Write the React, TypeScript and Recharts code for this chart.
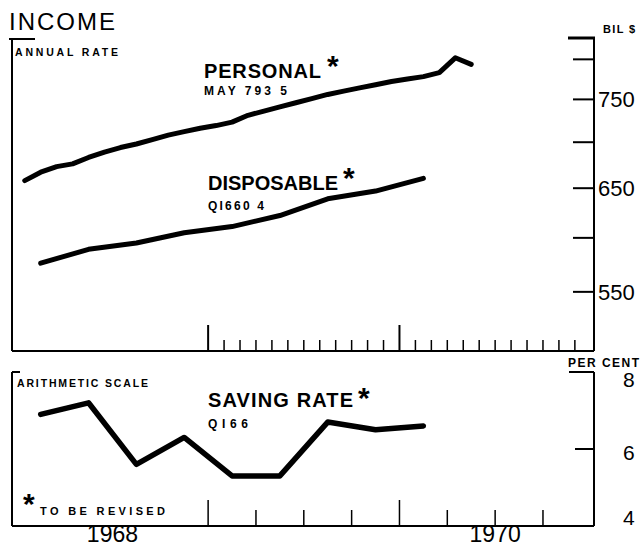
import React from 'react';
import { LineChart, Line, XAxis, YAxis } from 'recharts';

// ---------- DATA ----------
const personalMonths = [
  '1968-01', '1968-02', '1968-03', '1968-04', '1968-05', '1968-06',
  '1968-07', '1968-08', '1968-09', '1968-10', '1968-11', '1968-12',
  '1969-01', '1969-02', '1969-03', '1969-04', '1969-05', '1969-06',
  '1969-07', '1969-08', '1969-09', '1969-10', '1969-11', '1969-12',
  '1970-01', '1970-02', '1970-03', '1970-04', '1970-05',
];
const personalIncome = [
  658, 667, 673, 676, 683, 689, 694, 698, 703, 708, 712, 716,
  719, 723, 731, 736, 741, 746, 751, 756, 760, 764, 768, 772,
  775, 778, 783, 802, 793.5,
];

const quarters = [
  '1968 Q1', '1968 Q2', '1968 Q3', '1968 Q4',
  '1969 Q1', '1969 Q2', '1969 Q3', '1969 Q4', '1970 Q1',
];
const disposableIncome = [576, 589, 595, 605, 611, 622, 639, 647, 660.4];
const savingRate = [6.9, 7.2, 5.6, 6.3, 5.3, 5.3, 6.7, 6.5, 6.6];

const incomeTicks = [550, 600, 650, 700, 750, 800];
const incomeTickLabels = [550, 650, 750];
const rateTicks = [4, 6, 8];
const yearLabels = [
  { year: 1968, label: '1968' },
  { year: 1970, label: '1970' },
];

// ---------- helpers ----------
const BASE_YEAR = 1968;
const monthPos = (s: string) => {
  const [y, mo] = s.split('-').map(Number);
  return (y - BASE_YEAR) * 12 + (mo - 1) + 0.5;
};
const quarterPos = (s: string) => {
  const [y, q] = s.split(' Q').map(Number);
  return (y - BASE_YEAR) * 12 + (q - 1) * 3 + 1.5;
};
const yearCenter = (y: number) => (y - BASE_YEAR) * 12 + 6;

const personalData = personalMonths.map((m, i) => ({ m: monthPos(m), v: personalIncome[i] }));
const disposableData = quarters.map((q, i) => ({ m: quarterPos(q), v: disposableIncome[i] }));
const savingData = quarters.map((q, i) => ({ m: quarterPos(q), v: savingRate[i] }));

// monthly ticks from Jan 1969 through Dec 1970, quarterly ticks likewise
const monthTicks: number[] = [];
for (let k = 12; k < 36; k++) monthTicks.push(k);
const quarterTicks: number[] = [];
for (let k = 12; k < 36; k += 3) quarterTicks.push(k);
const bottomTicks = Array.from(
  new Set([...yearLabels.map((l) => yearCenter(l.year)), ...quarterTicks])
).sort((a, b) => a - b);

const X_DOMAIN: [number, number] = [-0.3, 36.2];
const FONT = '"Liberation Sans", Arial, sans-serif';

// ---------- custom ticks ----------
const TopXTick = (props: any) => {
  const { x, y, payload } = props;
  const v = payload.value as number;
  const len = v % 12 === 0 ? 26 : 11;
  return <line x1={x} x2={x} y1={y} y2={y - len} stroke="#000" strokeWidth={v % 12 === 0 ? 2 : 1.5} />;
};

const BottomXTick = (props: any) => {
  const { x, y, payload } = props;
  const v = payload.value as number;
  const isQ = quarterTicks.includes(v);
  const lbl = yearLabels.find((l) => yearCenter(l.year) === v);
  const len = v % 12 === 0 ? 26 : 16;
  return (
    <g>
      {isQ && <line x1={x} x2={x} y1={y} y2={y - len} stroke="#000" strokeWidth={1.5} />}
      {lbl && (
        <text x={x} y={y + 16} textAnchor="middle" fontFamily={FONT} fontSize={23} fill="#000">
          {lbl.label}
        </text>
      )}
    </g>
  );
};

const TopYTick = (props: any) => {
  const { x, y, payload } = props;
  const v = payload.value as number;
  const ax = x - 4;
  return (
    <g>
      <line x1={ax - 21} x2={ax} y1={y} y2={y} stroke="#000" strokeWidth={2} />
      {incomeTickLabels.includes(v) && (
        <text x={ax + 4} y={y + 8} textAnchor="start" fontFamily={FONT} fontSize={22} fill="#000">
          {v}
        </text>
      )}
    </g>
  );
};

const rateLabelDy: Record<number, number> = { 8: 15, 6: 11, 4: -1 };
const BottomYTick = (props: any) => {
  const { x, y, payload } = props;
  const v = payload.value as number;
  const ax = x - 4;
  const len = v === 8 ? 25 : v === 6 ? 19 : 0;
  return (
    <g>
      {len > 0 && <line x1={ax - len} x2={ax} y1={y} y2={y} stroke="#000" strokeWidth={2} />}
      <text x={ax + 29} y={y + rateLabelDy[v]} textAnchor="start" fontFamily={FONT} fontSize={21} fill="#000">
        {v}
      </text>
    </g>
  );
};

const axisStroke = { stroke: '#000', strokeWidth: 2 };

export default function App() {
  return (
    <div style={{ position: 'absolute', left: 0, top: 0, width: 640, height: 546, background: '#fff', overflow: 'hidden' }}>
      <div style={{ position: 'absolute', left: 0, top: 0 }}>
        <LineChart width={640} height={360} margin={{ top: 38, right: 0, bottom: 0, left: 11 }}>
          <XAxis
            type="number"
            dataKey="m"
            domain={X_DOMAIN}
            allowDataOverflow
            ticks={monthTicks}
            interval={0}
            tick={<TopXTick />}
            tickLine={false}
            tickSize={0}
            tickMargin={0}
            height={9}
            axisLine={axisStroke}
          />
          <YAxis yAxisId="L" orientation="left" width={1} tick={false} tickLine={false} axisLine={axisStroke} scale="log" domain={[500, 828]} allowDataOverflow />
          <YAxis
            yAxisId="R"
            orientation="right"
            width={46}
            scale="log"
            domain={[500, 828]}
            allowDataOverflow
            ticks={incomeTicks}
            interval={0}
            tick={<TopYTick />}
            tickLine={false}
            tickSize={0}
            tickMargin={4}
            axisLine={axisStroke}
          />
          <Line yAxisId="R" data={personalData} dataKey="v" type="linear" stroke="#000" strokeWidth={5} dot={false} isAnimationActive={false} strokeLinecap="round" strokeLinejoin="round" />
          <Line yAxisId="R" data={disposableData} dataKey="v" type="linear" stroke="#000" strokeWidth={5} dot={false} isAnimationActive={false} strokeLinecap="round" strokeLinejoin="round" />
        </LineChart>
      </div>
      <div style={{ position: 'absolute', left: 0, top: 360 }}>
        <LineChart width={640} height={186} margin={{ top: 12, right: 0, bottom: 0, left: 11 }}>
          <XAxis
            type="number"
            dataKey="m"
            domain={X_DOMAIN}
            allowDataOverflow
            ticks={bottomTicks}
            interval={0}
            tick={<BottomXTick />}
            tickLine={false}
            tickSize={0}
            tickMargin={0}
            height={20}
            axisLine={axisStroke}
          />
          <YAxis yAxisId="L" orientation="left" width={1} tick={false} tickLine={false} axisLine={axisStroke} domain={[4, 8]} allowDataOverflow />
          <YAxis
            yAxisId="R"
            orientation="right"
            width={46}
            domain={[4, 8]}
            allowDataOverflow
            ticks={rateTicks}
            interval={0}
            tick={<BottomYTick />}
            tickLine={false}
            tickSize={0}
            tickMargin={4}
            axisLine={axisStroke}
          />
          <Line yAxisId="R" data={savingData} dataKey="v" type="linear" stroke="#000" strokeWidth={5.5} dot={false} isAnimationActive={false} strokeLinecap="round" strokeLinejoin="round" />
        </LineChart>
      </div>
      <svg width={640} height={546} style={{ position: 'absolute', left: 0, top: 0, pointerEvents: 'none' }} fontFamily={FONT} fill="#000">
        <text x={9} y={30} fontSize={24} textLength={106}>INCOME</text>
        <line x1={9} y1={39} x2={35} y2={39} stroke="#000" strokeWidth={2} />
        <text x={15} y={56} fontSize={10.5} fontWeight="bold" textLength={103}>ANNUAL RATE</text>
        <line x1={568} y1={38} x2={595} y2={38} stroke="#000" strokeWidth={3} />
        <text x={603} y={33} fontSize={11} fontWeight="bold" textLength={32}>BIL $</text>

        <text x={204} y={78} fontSize={20} fontWeight="bold" textLength={117}>PERSONAL</text>
        <text x={327} y={76} fontSize={30} fontWeight="bold">*</text>
        <text x={204} y={95} fontSize={12} fontWeight="bold" textLength={83}>MAY 793 5</text>

        <text x={208} y={190} fontSize={20} fontWeight="bold" textLength={130}>DISPOSABLE</text>
        <text x={343} y={188} fontSize={30} fontWeight="bold">*</text>
        <text x={208} y={210} fontSize={12} fontWeight="bold" textLength={56}>QI660 4</text>

        <text x={568} y={367} fontSize={12} fontWeight="bold" textLength={71}>PER CENT</text>
        <line x1={12} y1={372} x2={20} y2={372} stroke="#000" strokeWidth={2} />
        <text x={17} y={387} fontSize={10.5} fontWeight="bold" textLength={131}>ARITHMETIC SCALE</text>

        <text x={208} y={407} fontSize={20} fontWeight="bold" textLength={145}>SAVING RATE</text>
        <text x={358} y={408} fontSize={30} fontWeight="bold">*</text>
        <text x={208} y={428} fontSize={12} fontWeight="bold" textLength={40}>QI66</text>

        <text x={23} y={514} fontSize={30} fontWeight="bold">*</text>
        <text x={40} y={515} fontSize={11} fontWeight="bold" textLength={125}>TO BE REVISED</text>
      </svg>
    </div>
  );
}
